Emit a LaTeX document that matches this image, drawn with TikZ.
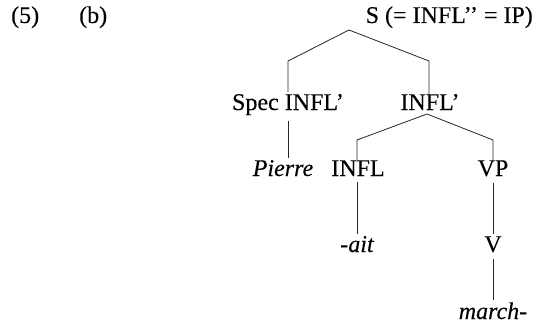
\documentclass[tikz,border=0pt]{standalone}
\usepackage{fontspec}
\setmainfont{Liberation Serif}[FakeBold=0.15,ItalicFeatures={FakeBold=0.15}]
\begin{document}
\begin{tikzpicture}[x=1pt,y=-1pt,
  lbl/.style={inner sep=0pt,anchor=base,font=\fontsize{24}{28}\selectfont},
  br/.style={line width=0.8pt,draw=black!85}]
\useasboundingbox (0,0) rectangle (536,324);
% labels
\node[lbl,anchor=base west] (num) at (11,23) {(5)};
\node[lbl,anchor=base west] (sub) at (79,23) {(b)};
\node[lbl,anchor=base east] (S) at (533,23) {S (= INFL’’ = IP)};
\node[lbl] (spec) at (288,110) {Spec INFL’};
\node[lbl] (ibar) at (430,110) {INFL’};
\node[lbl] (pierre) at (283,176) {\itshape Pierre};
\node[lbl] (infl) at (358,176) {INFL};
\node[lbl] (vp) at (493,176) {VP};
\node[lbl] (ait) at (357,252) {\itshape -ait};
\node[lbl] (v) at (493,252) {V};
\node[lbl] (march) at (493,319) {\itshape march-};
% branch points
\coordinate (apexS) at (349,30);
\coordinate (cL) at (288,61);
\coordinate (cR) at (429,61);
\coordinate (apexI) at (427,114);
\coordinate (dL) at (357,140);
\coordinate (dR) at (493,140);
% connectors
\draw[br] (cL |- spec.north) ++(0,-2) -- (cL) -- (apexS) -- (cR) -- ([yshift=-2pt]cR |- ibar.north);
\draw[br] ([yshift=-6pt]cL |- spec.south) -- ([yshift=2pt]cL |- pierre.north);
\draw[br] ([yshift=-2pt]dL |- infl.north) -- (dL) -- (apexI) -- (dR) -- ([yshift=-2pt]vp.north);
\draw[br] ([yshift=-6pt]dL |- infl.south) -- ([yshift=2pt]dL |- ait.north);
\draw[br] ([yshift=-6pt]vp.south) -- ([yshift=2pt]v.north);
\draw[br] ([yshift=-6pt]v.south) -- ([yshift=2pt]march.north);
\end{tikzpicture}
\end{document}
